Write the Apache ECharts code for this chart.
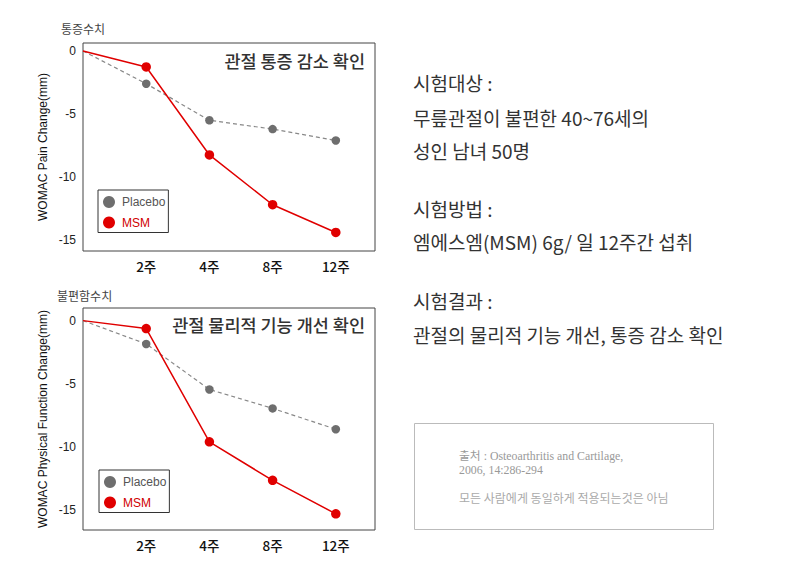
<!DOCTYPE html>
<html>
<head>
<meta charset="utf-8">
<script src="https://cdn.jsdelivr.net/npm/echarts@6/dist/echarts.min.js"></script>
<style>
html,body{margin:0;padding:0;background:#fff;}
#chart{width:797px;height:566px;}
</style>
</head>
<body>
<div id="chart"></div>
<script>
// ---- data ----
const weekLabels = ['2주', '4주', '8주', '12주'];
const weekIndex = [0, 1, 2, 3, 4];
const yTicks = [0, -5, -10, -15];
const painPlacebo = [0, -2.6, -5.5, -6.2, -7.1];
const painMSM = [0, -1.27, -8.25, -12.2, -14.4];
const funcPlacebo = [0, -1.85, -5.45, -6.95, -8.6];
const funcMSM = [0, -0.63, -9.6, -12.65, -15.3];
const seriesNames = ['Placebo', 'MSM'];

const RED = '#e00000';
const GRAY = '#6e6e6e';
const KR = '"Noto Sans CJK KR", "Noto Sans", sans-serif';
const LAT = '"Liberation Sans", Arial, sans-serif';

function pts(arr) { return arr.map((v, i) => [weekIndex[i], v]); }

const chart = echarts.init(document.getElementById('chart'), null, {renderer: 'svg'});

function xAxisFor(gi) {
  return {
    type: 'value', gridIndex: gi, min: 0, max: 4.62,
    axisLine: {show: false}, axisTick: {show: false}, splitLine: {show: false},
    axisLabel: {
      customValues: [1, 2, 3, 4],
      formatter: v => weekLabels[Math.round(v) - 1] || '',
      margin: 8, fontSize: 13.5, fontWeight: 500, color: '#111', fontFamily: KR
    }
  };
}
function yAxisFor(gi, min, max, name) {
  return {
    type: 'value', gridIndex: gi, min: min, max: max,
    axisLine: {show: false}, axisTick: {show: false}, splitLine: {show: false},
    axisLabel: {customValues: yTicks, margin: 7, fontSize: 12, color: '#222', fontFamily: LAT},
    name: name, nameLocation: 'middle', nameGap: 34, nameRotate: 90,
    nameTextStyle: {fontSize: 12, color: '#111', fontFamily: LAT}
  };
}
function legendFor(left, top) {
  return {
    orient: 'vertical', left: left, top: top,
    icon: 'circle', itemWidth: 12, itemHeight: 12, itemGap: 8.5,
    borderColor: '#333', borderWidth: 1, padding: [6, 3, 4, 5],
    textStyle: {fontSize: 12, fontFamily: LAT, padding: [0, 0, 0, 2]},
    data: [
      {name: seriesNames[0], itemStyle: {color: GRAY}, textStyle: {color: '#555'}},
      {name: seriesNames[1], itemStyle: {color: RED}, textStyle: {color: '#d00000'}}
    ],
    selectedMode: false
  };
}
function lineSeries(name, arr, gi, isMSM) {
  return {
    name: name, type: 'line', xAxisIndex: gi, yAxisIndex: gi,
    data: pts(arr),
    symbol: 'circle',
    symbolSize: (v, p) => p.dataIndex === 0 ? 0 : (isMSM ? 9.5 : 8.5),
    showSymbol: true,
    lineStyle: isMSM ? {color: RED, width: 1.5} : {color: '#888', width: 1.2, type: [4, 3]},
    itemStyle: {color: isMSM ? RED : GRAY},
    z: isMSM ? 3 : 2,
    animation: false
  };
}

const textEls = [];
function txt(x, y, s, size, color, font, align, weight) {
  textEls.push({type: 'text', x: x, y: y, silent: true,
    style: {text: s, fontSize: size, fill: color, fontFamily: font || KR, fontWeight: weight || 'normal',
      align: align || 'left', verticalAlign: 'middle'}});
}
txt(61, 28, '통증수치', 12, '#444');
txt(57, 295, '불편함수치', 12, '#444');
txt(365, 60, '관절 통증 감소 확인', 17.5, '#333', KR, 'right', 500);
txt(365, 324, '관절 물리적 기능 개선 확인', 17.5, '#333', KR, 'right', 500);

txt(413, 82, '시험대상 :', 19, '#333');
txt(413, 117, '무릎관절이 불편한 40~76세의', 19, '#333');
txt(413, 150, '성인 남녀 50명', 19, '#333');
txt(413, 208, '시험방법 :', 19, '#333');
txt(413, 241, '엠에스엠(MSM) 6g/ 일 12주간 섭취', 19, '#333');
txt(413, 300, '시험결과 :', 19, '#333');
txt(413, 334, '관절의 물리적 기능 개선, 통증 감소 확인', 19, '#333');

const SERIF = '"Liberation Serif", "Noto Sans CJK KR", serif';
txt(459, 456, '출처 : Osteoarthritis and Cartilage,', 11.8, '#999', SERIF);
txt(459, 470, '2006, 14:286-294', 11.8, '#999', SERIF);
txt(459, 497, '모든 사람에게 동일하게 적용되는것은 아님', 12, '#aaa', KR);

const option = {
  backgroundColor: '#fff',
  animation: false,
  grid: [
    {left: 83, top: 43, width: 292, height: 208, show: true, borderColor: '#444', borderWidth: 1, backgroundColor: 'transparent'},
    {left: 83, top: 308, width: 292, height: 222, show: true, borderColor: '#444', borderWidth: 1, backgroundColor: 'transparent'}
  ],
  xAxis: [xAxisFor(0), xAxisFor(1)],
  yAxis: [
    yAxisFor(0, -15.87, 0.63, 'WOMAC Pain Change(mm)'),
    yAxisFor(1, -16.58, 1.0, 'WOMAC Physical Function Change(mm)')
  ],
  legend: [legendFor(98, 190), legendFor(99, 470)],
  series: [
    lineSeries(seriesNames[0], painPlacebo, 0, false),
    lineSeries(seriesNames[1], painMSM, 0, true),
    lineSeries(seriesNames[0], funcPlacebo, 1, false),
    lineSeries(seriesNames[1], funcMSM, 1, true)
  ],
  graphic: [
    {type: 'rect', silent: true, shape: {x: 414.5, y: 423.5, width: 299, height: 106},
      style: {fill: 'none', stroke: '#bbb', lineWidth: 1}},
    ...textEls
  ]
};
chart.setOption(option);
</script>
</body>
</html>
